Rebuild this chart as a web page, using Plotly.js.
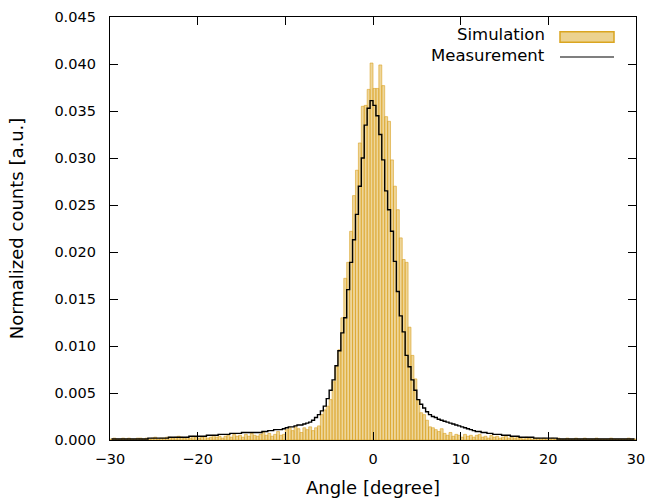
<!DOCTYPE html>
<html>
<head>
<meta charset="utf-8">
<script src="https://cdn.plot.ly/plotly-3.0.1.min.js"></script>
<style>
html,body{margin:0;padding:0;background:#fff;}
#chart{width:649px;height:501px;}
</style>
</head>
<body>
<div id="chart"></div>
<script>
// Histogram binning: 180 bins of 1/3 degree from -30 to 30
const binStart = -30;
const binWidth = 1/3;

// Simulation: normalized counts per bin
const simulation = [
0.0001,0.0002,0.0001,0.0001,0.0002,0.0001,0.0002,0.0001,0.0001,0.0002,
0.0002,0.0001,0.0002,0.0001,0.0002,0.0003,0.0001,0.0002,0.0002,0.0003,
0.0003,0.0002,0.0003,0.0004,0.0003,0.0002,0.0003,0.0002,0.0004,0.0003,
0.0002,0.0003,0.0004,0.0002,0.0003,0.0005,0.0003,0.0004,0.0002,0.0004,
0.0005,0.0003,0.0006,0.0004,0.0005,0.0003,0.0006,0.0004,0.0007,0.0005,
0.0004,0.0006,0.0008,0.0005,0.0007,0.0004,0.0006,0.0009,0.0005,0.0006,
0.0011,0.0013,0.0010,0.0014,0.0012,0.0008,0.0013,0.0011,0.0014,0.0010,
0.0013,0.0015,0.0027,0.0032,0.0036,0.0043,0.0062,0.0078,0.0096,0.0130,
0.0172,0.0189,0.0222,0.0260,0.0287,0.0316,0.0355,0.0356,0.0373,0.0401,
0.0374,0.0374,0.0399,0.0377,0.0344,0.0339,0.0298,0.0270,0.0245,0.0215,
0.0192,0.0189,0.0120,0.0090,0.0065,0.0042,0.0029,0.0027,0.0021,0.0014,
0.0013,0.0011,0.0009,0.0012,0.0007,0.0005,0.0008,0.0004,0.0006,0.0005,
0.0003,0.0006,0.0004,0.0005,0.0003,0.0005,0.0006,0.0003,0.0004,0.0002,
0.0005,0.0003,0.0004,0.0002,0.0003,0.0004,0.0002,0.0003,0.0002,0.0003,
0.0002,0.0001,0.0003,0.0002,0.0001,0.0002,0.0002,0.0001,0.0002,0.0001,
0.0001,0.0002,0.0001,0.0002,0.0001,0.0001,0.0002,0.0001,0.0001,0.0002,
0.0001,0.0001,0.0002,0.0001,0.0001,0.0001,0.0002,0.0001,0.0001,0.0001,
0.0001,0.0002,0.0001,0.0001,0.0001,0.0001,0.0001,0.0002,0.0001,0.0001
];

// Measurement: normalized counts per bin
const measurement = [
0.0001,0.0001,0.0001,0.0001,0.0001,0.0001,0.0001,0.0001,0.0001,0.0001,
0.0001,0.0001,0.0001,0.0002,0.0002,0.0002,0.0002,0.0002,0.0002,0.0002,
0.0003,0.0003,0.0003,0.0003,0.0003,0.0003,0.0003,0.0004,0.0004,0.0004,
0.0004,0.0004,0.0004,0.0005,0.0005,0.0005,0.0005,0.0006,0.0006,0.0006,
0.0006,0.0007,0.0007,0.0007,0.0007,0.0008,0.0008,0.0008,0.0008,0.0008,
0.0008,0.0008,0.0009,0.0009,0.0010,0.0010,0.0011,0.0011,0.0011,0.0012,
0.0013,0.0014,0.0014,0.0015,0.0016,0.0016,0.0017,0.0018,0.0019,0.0021,
0.0024,0.0027,0.0031,0.0036,0.0044,0.0053,0.0064,0.0079,0.0095,0.0114,
0.0130,0.0160,0.0189,0.0213,0.0240,0.0270,0.0300,0.0335,0.0353,0.0361,
0.0356,0.0345,0.0325,0.0298,0.0265,0.0245,0.0222,0.0190,0.0158,0.0132,
0.0115,0.0090,0.0078,0.0064,0.0053,0.0043,0.0038,0.0034,0.0030,0.0027,
0.0025,0.0024,0.0022,0.0021,0.0020,0.0019,0.0018,0.0017,0.0016,0.0015,
0.0014,0.0013,0.0012,0.0011,0.0010,0.0009,0.0009,0.0008,0.0008,0.0007,
0.0007,0.0006,0.0006,0.0006,0.0005,0.0005,0.0005,0.0004,0.0004,0.0004,
0.0003,0.0003,0.0003,0.0003,0.0003,0.0002,0.0002,0.0002,0.0002,0.0002,
0.0002,0.0002,0.0002,0.0001,0.0001,0.0001,0.0001,0.0001,0.0001,0.0001,
0.0001,0.0001,0.0001,0.0001,0.0001,0.0001,0.0001,0.0001,0.0001,0.0001,
0.0001,0.0001,0.0001,0.0001,0.0001,0.0001,0.0001,0.0001,0.0001,0.0001
];

const xTicks = [-30, -20, -10, 0, 10, 20, 30];
const yTicks = [0, 0.005, 0.010, 0.015, 0.020, 0.025, 0.030, 0.035, 0.040, 0.045];
const seriesNames = ["Simulation", "Measurement"];

const centers = simulation.map((_, i) => binStart + (i + 0.5) * binWidth);

const FONT = "DejaVu Sans, sans-serif";
const gold = "#daa520";
const goldFill = "rgba(218,165,32,0.5)";

const traces = [
  {
    type: "bar",
    name: seriesNames[0],
    x: centers,
    y: simulation,
    width: binWidth,
    marker: { color: "rgba(218,165,32,0.45)", line: { color: "rgba(218,160,32,0.85)", width: 0.7 } },
    showlegend: false,
    hoverinfo: "x+y"
  },
  {
    type: "scatter",
    mode: "lines",
    name: seriesNames[1],
    x: centers,
    y: measurement,
    line: { color: "#000", width: 1.4, shape: "hvh" },
    showlegend: false
  }
];

const axisCommon = {
  showgrid: false,
  zeroline: false,
  showline: true,
  linecolor: "#000",
  linewidth: 1.2,
  mirror: "ticks",
  ticks: "inside",
  ticklen: 8,
  tickwidth: 1,
  tickcolor: "#000",
  tickfont: { family: FONT, size: 14.5, color: "#000" }
};

const layout = {
  width: 649,
  height: 501,
  margin: { l: 110, r: 13, t: 17, b: 61 },
  paper_bgcolor: "#fff",
  plot_bgcolor: "#fff",
  bargap: 0,
  barmode: "overlay",
  showlegend: false,
  font: { family: FONT, color: "#000" },
  xaxis: Object.assign({}, axisCommon, {
    range: [-30, 30],
    tickmode: "array",
    tickvals: xTicks,
    ticktext: xTicks.map(v => (v < 0 ? "\u2212" + Math.abs(v) : String(v))),
    ticklabelstandoff: 5,
    title: { text: "Angle [degree]", font: { family: FONT, size: 18, color: "#000" }, standoff: 15 }
  }),
  yaxis: Object.assign({}, axisCommon, {
    range: [0, 0.045],
    tickmode: "array",
    tickvals: yTicks,
    ticktext: yTicks.map(v => v.toFixed(3)),
    ticklabelstandoff: 10,
    title: { text: "Normalized counts [a.u.]", font: { family: FONT, size: 18, color: "#000" }, standoff: 26 }
  }),
  shapes: [
    { type: "rect", xref: "paper", yref: "paper", x0: 0.8555, x1: 0.9582, y0: 0.9402, y1: 0.9652,
      fillcolor: goldFill, line: { color: gold, width: 1.5 } },
    { type: "line", xref: "paper", yref: "paper", x0: 0.8555, x1: 0.9582, y0: 0.9054, y1: 0.9054,
      line: { color: "#000", width: 1.2 } }
  ],
  annotations: [
    { xref: "paper", yref: "paper", x: 0.8289, y: 0.9580, xanchor: "right", yanchor: "middle",
      text: seriesNames[0], showarrow: false, borderpad: 0,
      font: { family: FONT, size: 16.5, color: "#000" } },
    { xref: "paper", yref: "paper", x: 0.8289, y: 0.9100, xanchor: "right", yanchor: "middle",
      text: seriesNames[1], showarrow: false, borderpad: 0,
      font: { family: FONT, size: 16.5, color: "#000" } }
  ]
};

Plotly.newPlot("chart", traces, layout, { displayModeBar: false, staticPlot: true });
</script>
</body>
</html>
